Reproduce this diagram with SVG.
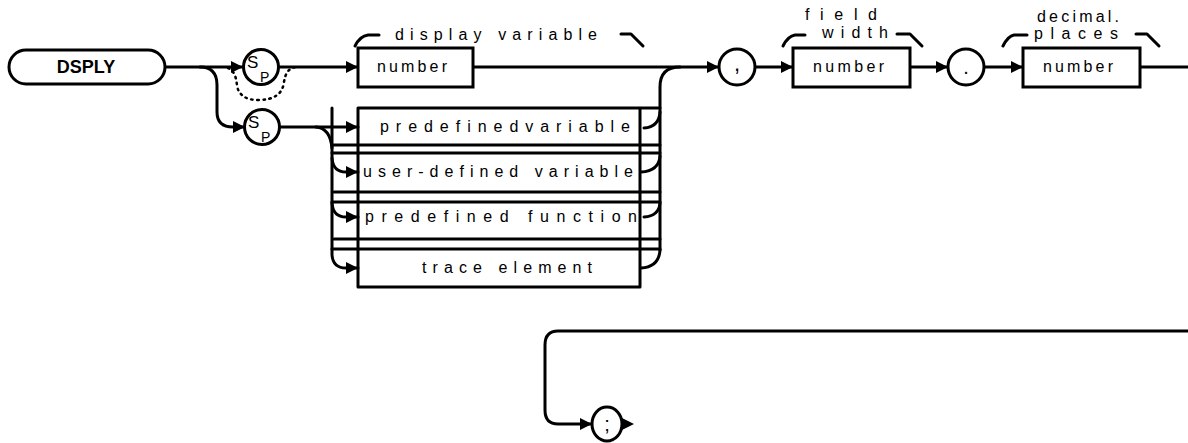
<svg xmlns="http://www.w3.org/2000/svg" width="1188" height="443" viewBox="0 0 1188 443">
<defs>
<marker id="arr" viewBox="0 0 12 12" refX="12" refY="6" markerWidth="12" markerHeight="12" markerUnits="userSpaceOnUse" orient="auto">
<path d="M0,0 L12,6 L0,12 Z" fill="#000"/>
</marker>
</defs>
<style>
.ln{fill:none;stroke:#000;stroke-width:3;stroke-linecap:round;stroke-linejoin:round}
.ar{marker-end:url(#arr)}
.dot{fill:none;stroke:#000;stroke-width:2.5;stroke-dasharray:1.5 4.5;stroke-linecap:round}
.box{fill:#fff;stroke:#000;stroke-width:3}
.t{font-family:"Liberation Sans",Arial,sans-serif;font-size:16px;fill:#000}
.s{font-family:"Liberation Sans",Arial,sans-serif;font-size:17px;fill:#000}
.p{font-family:"Liberation Sans",Arial,sans-serif;font-size:14px;fill:#000}
.b{font-family:"Liberation Sans",Arial,sans-serif;font-size:18px;font-weight:bold;fill:#000}
.c{fill:#fff;stroke:#000;stroke-width:3}
</style>
<rect width="1188" height="443" fill="#fff"/>

<g id="connectors">
<path class="ln ar" d="M165,67 H243"/>
<path class="ln ar" d="M200,67 Q217,67 217,85 V112 Q217,127 233,127 H245"/>
<path class="dot" d="M228,68 Q236,71 237,86 Q240,100 258,100 Q282,100 284,82 Q286,68 296,67"/>
<path class="ln ar" d="M279,67 H358"/>
<path class="ln ar" d="M473,67 H719"/>
<path class="ln" d="M660,250 V87 Q660,67 680,67"/>
<path class="ln ar" d="M280,127 H358"/>
<path class="ln" d="M316,127 Q330,128 332,148"/>
<path class="ln ar" d="M332,108 V255 Q333,268 346,268 H358"/>
<path class="ln ar" d="M332,158 Q333,172 346,172 H358"/>
<path class="ln ar" d="M332,203 Q333,217 346,217 H358"/>
<path class="ln" d="M644,128 Q659,127 660,112"/>
<path class="ln" d="M641,172 Q659,171 660,156"/>
<path class="ln" d="M644,217 Q659,216 660,203"/>
<path class="ln" d="M641,268 Q659,267 660,250"/>
<path class="ln ar" d="M755,67 H793"/>
<path class="ln ar" d="M910,67 H948"/>
<path class="ln ar" d="M984,67 H1023"/>
<path class="ln" d="M1140,67 H1190"/>
<path class="ln ar" d="M1190,331 H558 Q545,331 545,345 V410 Q545,424 558,424 H592"/>
<path d="M622,418 L634,424 L622,430 Z" fill="#000"/>
<path class="ln" d="M355,46 Q360,36 368,35 H379"/>
<path class="ln" d="M621,34 H631 L643,46"/>
<path class="ln" d="M783,46 Q788,36 795,35 H805"/>
<path class="ln" d="M897,34 H910 L922,46"/>
<path class="ln" d="M1003,46 Q1008,36 1014,35 H1027"/>
<path class="ln" d="M1136,34 H1147 L1159,46"/>
</g>

<g id="dsply">
<rect class="box" x="9" y="50" width="156" height="34" rx="17"/>
<text class="b" x="86" y="73" text-anchor="middle">DSPLY</text>
</g>

<g id="sp1">
<circle class="c" cx="261" cy="67" r="17.5"/>
<text class="s" x="247" y="68">S</text>
<text class="p" x="260" y="82">P</text>
</g>

<g id="sp2">
<circle class="c" cx="262" cy="127" r="17.5"/>
<text class="s" x="248" y="128">S</text>
<text class="p" x="261" y="142">P</text>
</g>

<g id="display-variable">
<rect class="box" x="358" y="48" width="115" height="39"/>
<text class="t" x="377" y="72" textLength="70" lengthAdjust="spacing">number</text>
<text class="t" x="395" y="40" textLength="202" lengthAdjust="spacing">display variable</text>
</g>

<g id="alternatives">
<path class="ln" d="M358,108 H660 M332,145 H660 M332,153 H660 M334,192 H660 M332,202 H660 M334,239 H660 M332,249 H660 M358,287 H640 M358,108 V287 M640,108 V287"/>
</g>

<g id="predefined-variable">
<text class="t" x="380" y="132" textLength="250" lengthAdjust="spacing">predefinedvariable</text>
</g>

<g id="user-defined-variable">
<text class="t" x="363" y="177" textLength="270" lengthAdjust="spacing">user-defined variable</text>
</g>

<g id="predefined-function">
<text class="t" x="365" y="222" textLength="272" lengthAdjust="spacing">predefined function</text>
</g>

<g id="trace-element">
<text class="t" x="422" y="273" textLength="170" lengthAdjust="spacing">trace element</text>
</g>

<g id="comma">
<circle class="c" cx="737" cy="67" r="18"/>
<text class="t" x="737" y="71" text-anchor="middle" style="font-size:22px">,</text>
</g>

<g id="field-width">
<rect class="box" x="793" y="48" width="117" height="39"/>
<text class="t" x="813" y="72" textLength="71" lengthAdjust="spacing">number</text>
<text class="t" x="805" y="20" textLength="72" lengthAdjust="spacing">field</text>
<text class="t" x="822" y="38" textLength="66" lengthAdjust="spacing">width</text>
</g>

<g id="point">
<circle class="c" cx="966" cy="67" r="18"/>
<text class="t" x="966" y="74" text-anchor="middle" style="font-size:20px">.</text>
</g>

<g id="decimal-places">
<rect class="box" x="1023" y="48" width="117" height="39"/>
<text class="t" x="1043" y="72" textLength="70" lengthAdjust="spacing">number</text>
<text class="t" x="1037" y="22" textLength="82" lengthAdjust="spacing">decimal.</text>
<text class="t" x="1034" y="39" textLength="84" lengthAdjust="spacing">places</text>
</g>

<g id="semicolon">
<ellipse class="c" cx="607" cy="424" rx="15" ry="17"/>
<text class="t" x="607" y="431" text-anchor="middle" style="font-size:20px">;</text>
</g>
</svg>
